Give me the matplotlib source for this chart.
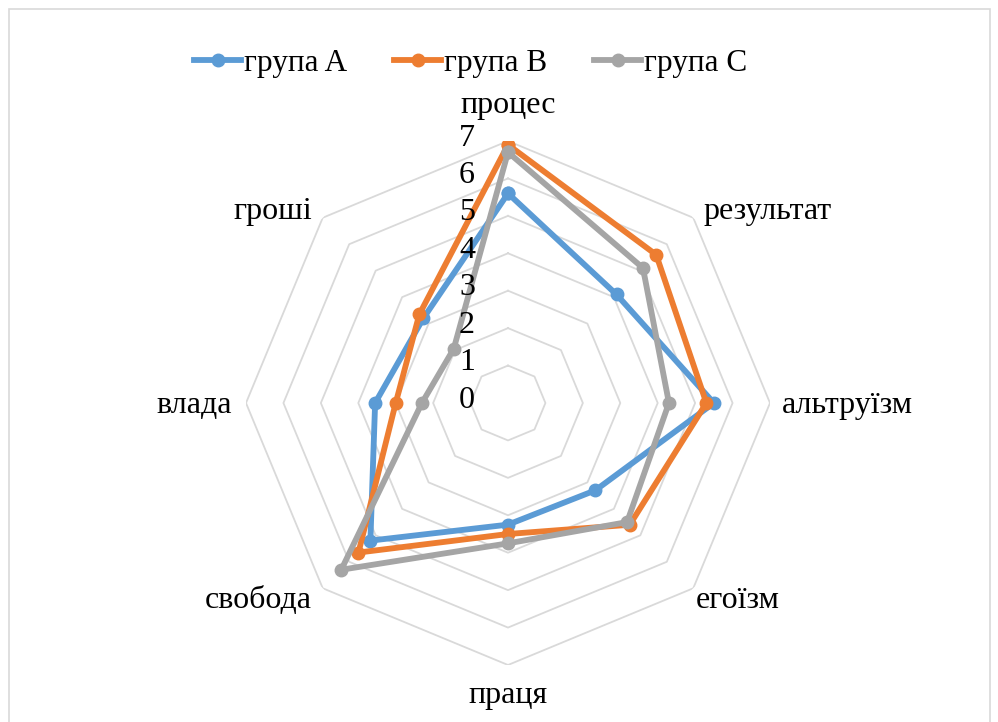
import numpy as np
import matplotlib
matplotlib.use('Agg')
import matplotlib.pyplot as plt
from matplotlib.patches import Rectangle

plt.rcParams['font.family'] = ['Liberation Serif', 'DejaVu Serif']

# дані
categories = ['процес', 'результат', 'альтруїзм', 'егоїзм',
              'праця', 'свобода', 'влада', 'гроші']
group_a = [5.6, 4.1, 5.5, 3.3, 3.25, 5.2, 3.55, 3.2]
group_b = [6.9, 5.6, 5.3, 4.6, 3.5, 5.65, 3.0, 3.35]
group_c = [6.7, 5.1, 4.3, 4.5, 3.75, 6.3, 2.3, 2.05]
series_names = ['група A', 'група B', 'група C']
r_ticks = [0, 1, 2, 3, 4, 5, 6, 7]

colors = ['#5B9BD5', '#ED7D31', '#A5A5A5']
grid_color = '#D9D9D9'

W, H = 998, 722
fig = plt.figure(figsize=(W / 100, H / 100), dpi=100)

# рамка області діаграми
fig.patches.append(Rectangle((9 / W, -0.05), (990 - 9) / W, 1.05 - 9 / H,
                             transform=fig.transFigure, fill=False,
                             edgecolor=grid_color, linewidth=1.2))

cx, cy, rad = 508, 403, 262
ax = fig.add_axes([(cx - rad) / W, (H - cy - rad) / H, 2 * rad / W, 2 * rad / H],
                  projection='polar')
ax.set_theta_zero_location('N')
ax.set_theta_direction(-1)
ax.set_ylim(0, 7)
ax.grid(False)
ax.spines['polar'].set_visible(False)
ax.set_xticks([])
ax.set_yticks([])
ax.patch.set_alpha(0)

n = len(categories)
angles = np.arange(n) * 2 * np.pi / n
closed = np.append(angles, angles[0])

# восьмикутна сітка
for r in r_ticks[1:]:
    ax.plot(closed, [r] * (n + 1), color=grid_color, lw=1.3, zorder=1)

for vals, col, name in zip([group_a, group_b, group_c], colors, series_names):
    ax.plot(closed, list(vals) + [vals[0]], color=col, lw=4.2,
            marker='o', ms=9, label=name, zorder=3, solid_joinstyle='round')

# підписи шкали
for r in r_ticks:
    ax.annotate(str(r), xy=(0, r), xycoords='data', xytext=(-33, 3),
                textcoords='offset pixels', ha='right', va='center',
                fontsize=23, zorder=4)

# підписи категорій
offsets = [((0, 36), 'center'), ((10, 6), 'left'), ((12, -2), 'left'),
           ((2, -12), 'left'), ((0, -31), 'center'), ((-11, -12), 'right'),
           ((-14, -2), 'right'), ((-11, 6), 'right')]
for ang, lab, (off, ha) in zip(angles, categories, offsets):
    ax.annotate(lab, xy=(ang, 7), xycoords='data', xytext=off,
                textcoords='offset pixels', ha=ha, va='center', fontsize=23)

fig.legend(loc='center', bbox_to_anchor=(471 / W, 1 - 63 / H), ncol=3,
           frameon=False, fontsize=22.5, handlelength=1.5, handletextpad=0.1,
           columnspacing=1.5)

fig.savefig('out.png', dpi=100)
